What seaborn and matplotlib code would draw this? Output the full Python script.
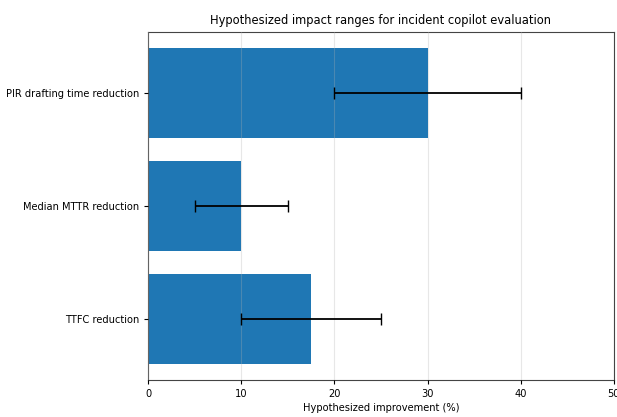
import numpy as np
import matplotlib
matplotlib.use("Agg")
import pandas as pd
import matplotlib.pyplot as plt
import seaborn as sns

metrics = ["PIR drafting time reduction", "Median MTTR reduction", "TTFC reduction"]
midpoints = [30.0, 10.0, 17.5]
low_ends = [20.0, 5.0, 10.0]
high_ends = [40.0, 15.0, 25.0]

df = pd.DataFrame({"metric": metrics, "mid": midpoints, "low": low_ends, "high": high_ends})

fig = plt.figure(figsize=(6.17, 4.17), dpi=100)
ax = fig.add_axes([0.240, 0.089, 0.755, 0.834])

sns.barplot(data=df, x="mid", y="metric", orient="h", color="#1f77b4",
            saturation=1, width=0.8, errorbar=None, ax=ax)

# error bars placed at the bar centres that seaborn gave us
centres = [p.get_y() + p.get_height() / 2 for p in ax.patches]
xerr = np.array([df["mid"] - df["low"], df["high"] - df["mid"]])
ax.errorbar(df["mid"], centres, xerr=xerr, fmt="none", ecolor="black",
            elinewidth=1.3, capsize=4, capthick=1.0, zorder=3)

ax.set_xlim(0, 50)
ax.set_ylim(2.54, -0.54)
ax.set_xticks([0, 10, 20, 30, 40, 50])
ax.grid(axis="x", alpha=0.3)
ax.set_axisbelow(False)
ax.set_ylabel("")
ax.set_xlabel("Hypothesized improvement (%)", fontsize=7.1, labelpad=3)
ax.set_title("Hypothesized impact ranges for incident copilot evaluation", fontsize=8.3, pad=6)
ax.tick_params(labelsize=7.1, length=3)
for s in ax.spines.values():
    s.set_color("#444444")
    s.set_linewidth(0.8)

fig.savefig("out.png", dpi=100)
